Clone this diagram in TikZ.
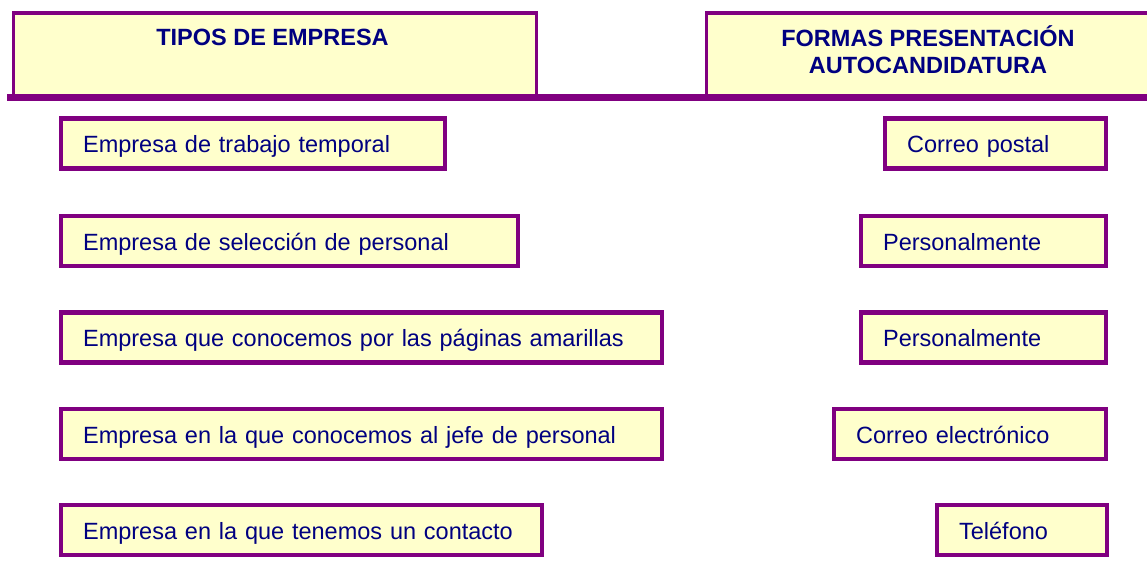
\documentclass[tikz,border=0pt]{standalone}
\usepackage{fontspec}
\setmainfont{Liberation Sans}
\definecolor{bordpurple}{HTML}{800080}
\definecolor{boxfill}{HTML}{FFFFCC}
\definecolor{navytext}{HTML}{000080}
\begin{document}
\begin{tikzpicture}[x=1pt,y=-1pt,
  hdrbox/.style={draw=bordpurple, fill=boxfill, line width=3.5pt, anchor=north west, inner sep=0pt},
  hdrtext/.style={text=navytext, font=\fontsize{23.5}{27}\selectfont\bfseries, align=center, inner sep=0pt},
  itembox/.style={draw=bordpurple, fill=boxfill, line width=4.2pt, anchor=west, minimum height=50pt,
     text height=21pt, text depth=3pt,
     inner xsep=22pt, inner ysep=0pt, align=left, text=navytext, font=\fontsize{23.5}{27}\selectfont}
]
\useasboundingbox (0,0) rectangle (1147,574);
\clip (0,0) rectangle (1147,574);
% shadow bar
\fill[bordpurple] (7,93.5) rectangle (1147,101) coordinate (barend);
% headers
\node[hdrbox, minimum width=523pt, minimum height=83pt] (h1) at (11.5,11) {};
\node[hdrbox, minimum width=460pt, minimum height=83pt] (h2) at (704.5,11) {};
\node[hdrtext] (h1t) at (272.5,37) {TIPOS DE EMPRESA};
\node[hdrtext] (h2t) at (928,50) {FORMAS PRESENTACIÓN\\AUTOCANDIDATURA};
% left items
\node[itembox, text width=340pt] (l1) at (59,143.5) {Empresa de trabajo temporal};
\node[itembox, text width=413pt] (l2) at (59,241) {Empresa de selección de personal};
\node[itembox, text width=557pt] (l3) at (59,337.5) {Empresa que conocemos por las páginas amarillas};
\node[itembox, text width=557pt] (l4) at (59,434) {Empresa en la que conocemos al jefe de personal};
\node[itembox, text width=437pt] (l5) at (59,530) {Empresa en la que tenemos un contacto};
% right items
\node[itembox, text width=177pt] (r1) at (883,143.5) {Correo postal};
\node[itembox, text width=201pt] (r2) at (859,241) {Personalmente};
\node[itembox, text width=201pt] (r3) at (859,337.5) {Personalmente};
\node[itembox, text width=228pt] (r4) at (832,434) {Correo electrónico};
\node[itembox, text width=126pt] (r5) at (935,530) {Teléfono};
\end{tikzpicture}
\end{document}
